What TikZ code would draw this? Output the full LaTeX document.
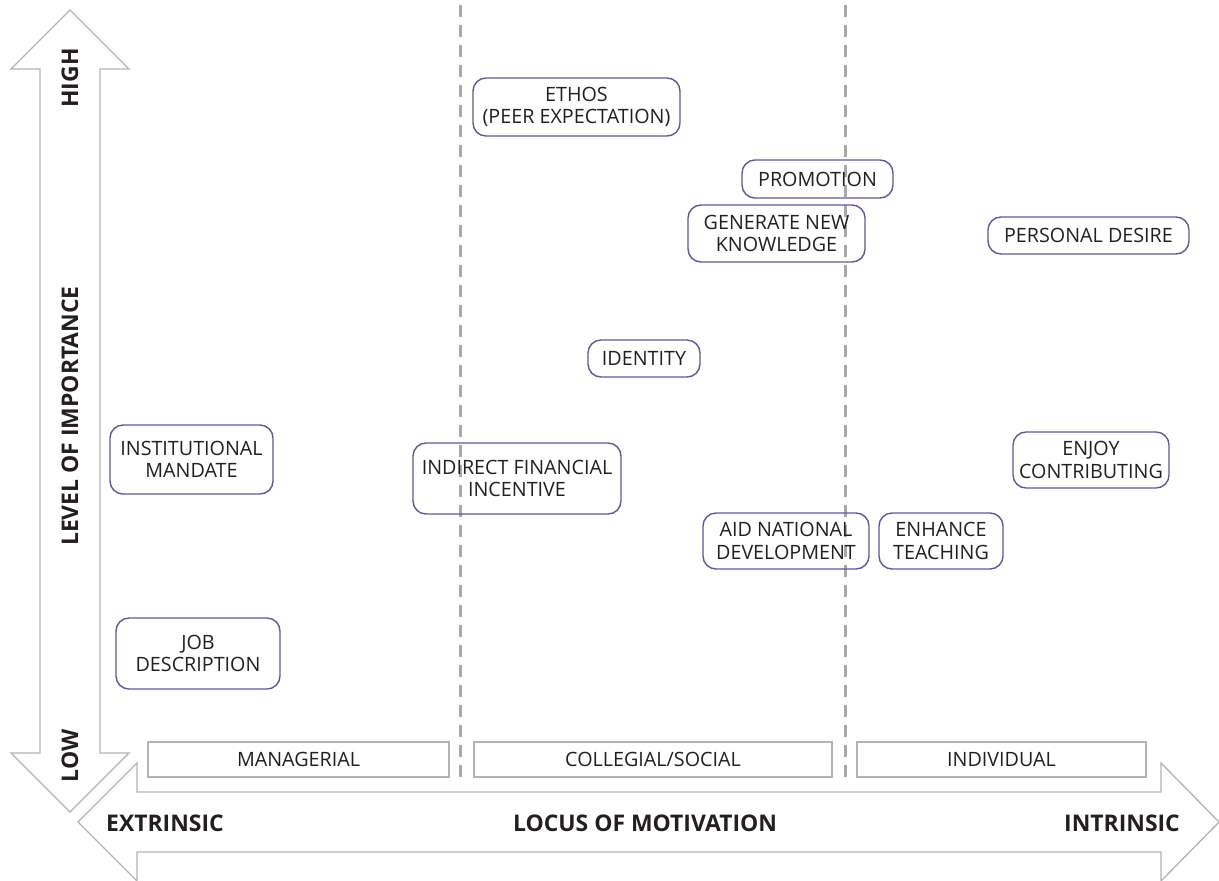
\documentclass[tikz,border=0pt]{standalone}
\usepackage{fontspec}
\setmainfont{Open Sans}
\usetikzlibrary{positioning}
\definecolor{ink}{HTML}{231F20}
\definecolor{framegray}{HTML}{B3B3B3}
\definecolor{dashgray}{HTML}{A8A8A8}
\definecolor{boxpurple}{HTML}{66568F}

\begin{document}
\begin{tikzpicture}[x=0.5bp, y=-0.5bp, font=\fontsize{9.9}{11.2}\selectfont, text=ink,
    motive/.style={draw=boxpurple, line width=0.7bp, rounded corners=6.5bp, align=center, inner sep=0pt},
    locus/.style={draw=framegray, line width=0.7bp, inner sep=0pt, minimum height=17.5bp},
    axislabel/.style={font=\fontsize{11.5}{13}\selectfont\bfseries}]
    \useasboundingbox (0,0) rectangle (1219,880);

    % Axis arrows
    \draw[framegray, line width=0.65bp, line join=miter]
        (70,10) -- (129,69) -- (100,69) -- (100,753) -- (129,753) -- (70,812)
        -- (11,753) -- (40,753) -- (40,69) -- (11,69) -- cycle;
    \draw[framegray, line width=0.65bp, line join=miter]
        (78,822) -- (137,763) -- (137,792) -- (1161,792) -- (1161,763) -- (1219,822)
        -- (1161,881) -- (1161,852) -- (137,852) -- (137,881) -- cycle;

    % Dividers
    \draw[dashgray, line width=1.5bp, dash pattern=on 6bp off 4bp] (460,5) -- (460,778);
    \draw[dashgray, line width=1.5bp, dash pattern=on 6bp off 4bp] (845,5) -- (845,778);

    % Axis labels
    \node[axislabel, rotate=90] (high) at (70,78) {HIGH};
    \node[axislabel, rotate=90] (low) at (70,756) {LOW};
    \node[axislabel, rotate=90] (level) at (70,416) {LEVEL OF IMPORTANCE};
    \node[axislabel] (extrinsic) at (165,823) {EXTRINSIC};
    \node[axislabel] (locusname) at (645,823) {LOCUS OF MOTIVATION};
    \node[axislabel] (intrinsic) at (1122,823) {INTRINSIC};

    % Loci
    \node[locus, minimum width=150.5bp] (managerial) at (298.5,759.5) {MANAGERIAL};
    \node[locus, minimum width=179bp] (collegial) at (653,759.5) {COLLEGIAL/SOCIAL};
    \node[locus, minimum width=144.5bp] (individual) at (1001.5,759.5) {INDIVIDUAL};

    % Motives
    \node[motive, minimum width=103.5bp, minimum height=29bp] (ethos) at (576.5,107) {ETHOS\\(PEER EXPECTATION)};
    \node[motive, minimum width=75.5bp, minimum height=19bp] (promotion) at (817.5,179) {PROMOTION};
    \node[motive, minimum width=88.5bp, minimum height=28.5bp] (knowledge) at (776.5,233.5) {GENERATE NEW\\KNOWLEDGE};
    \node[motive, minimum width=100.5bp, minimum height=18.5bp] (desire) at (1088.5,235.5) {PERSONAL DESIRE};
    \node[motive, minimum width=56bp, minimum height=18.5bp] (identity) at (644,358.5) {IDENTITY};
    \node[motive, minimum width=81.5bp, minimum height=34.5bp] (mandate) at (191.5,459.5) {INSTITUTIONAL\\MANDATE};
    \node[motive, minimum width=104bp, minimum height=35.5bp] (financial) at (517,478.5) {INDIRECT FINANCIAL\\INCENTIVE};
    \node[motive, minimum width=78bp, minimum height=28bp] (enjoy) at (1091,460) {ENJOY\\CONTRIBUTING};
    \node[motive, minimum width=83bp, minimum height=28bp] (aid) at (786,541) {AID NATIONAL\\DEVELOPMENT};
    \node[motive, minimum width=62bp, minimum height=28bp] (teaching) at (941,541) {ENHANCE\\TEACHING};
    \node[motive, minimum width=82bp, minimum height=35.5bp] (job) at (198,653.5) {JOB\\DESCRIPTION};
\end{tikzpicture}
\end{document}
